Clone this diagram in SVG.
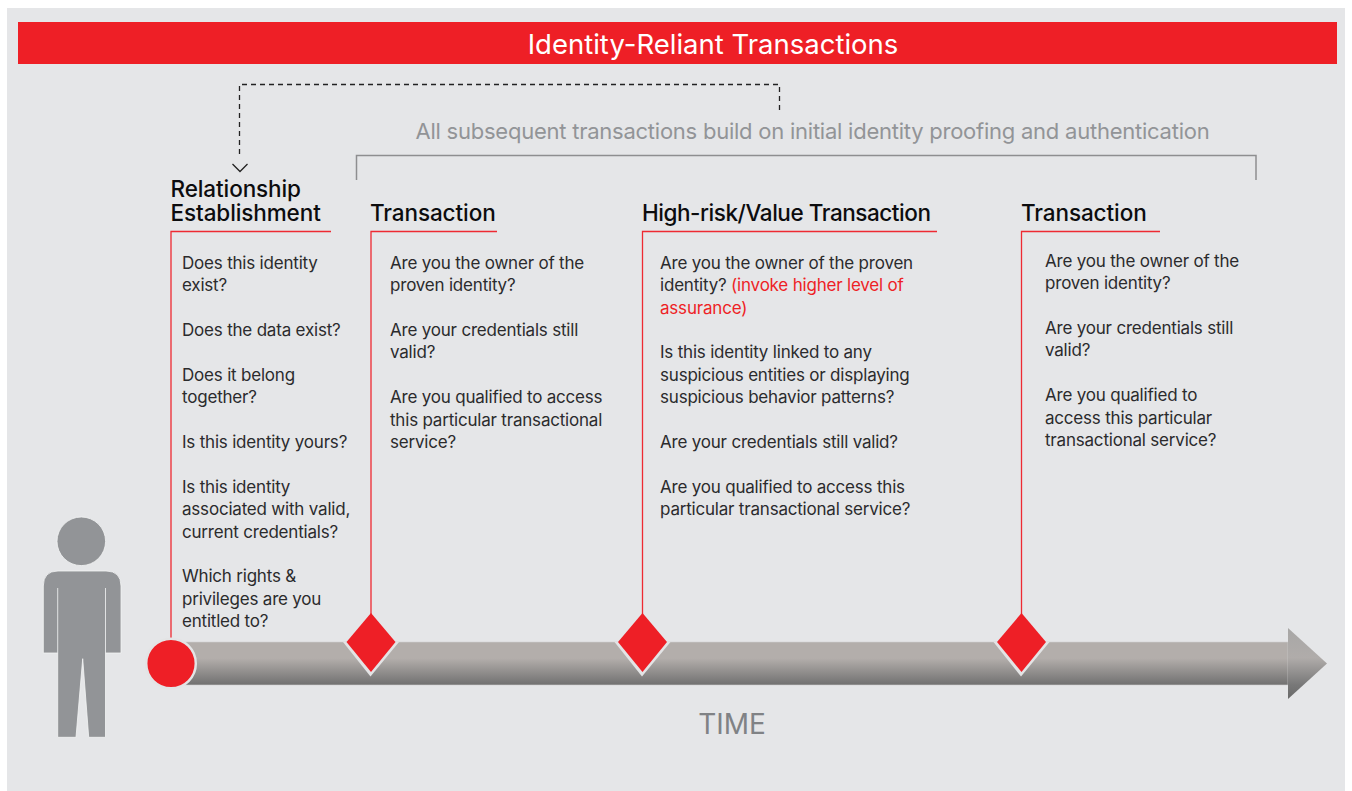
<svg xmlns="http://www.w3.org/2000/svg" width="1352" height="791" viewBox="0 0 1352 791">
<style>
text{font-family:"Inter","Liberation Sans",sans-serif}
.b{font-size:17px;fill:#2b2b2d;letter-spacing:-.2px}
.r{fill:#ee1f26}
.h{font-size:22.5px;fill:#0c0c0e;font-weight:500}
.l{fill:none;stroke:#ee2a32;stroke-width:1.3}
.u{fill:#e3e4e5}
.d{fill:#ee1f26}
</style>
<defs>
<linearGradient id="g" gradientUnits="userSpaceOnUse" x1="0" y1="642" x2="0" y2="685"><stop offset="0" stop-color="#b3aeab"/><stop offset=".38" stop-color="#b3aeab"/><stop offset="1" stop-color="#707070"/></linearGradient>
<linearGradient id="g2" gradientUnits="userSpaceOnUse" x1="0" y1="628" x2="0" y2="699"><stop offset="0" stop-color="#a8a7a6"/><stop offset=".42" stop-color="#b0acaa"/><stop offset=".8" stop-color="#787878"/><stop offset="1" stop-color="#696969"/></linearGradient>
</defs>
<rect width="1352" height="791" fill="#fff"/>
<rect x="7" y="8" width="1338" height="783" fill="#e5e6e8"/>
<g id="title"><rect x="18" y="22" width="1319" height="42" fill="#ee1f26"/>
<text x="713" y="54" text-anchor="middle" font-size="27.500" fill="#fff">Identity-Reliant Transactions</text></g>
<g id="connectors">
<path d="M779.500 110V84.500H239.500V156" fill="none" stroke="#222" stroke-width="1.300" stroke-dasharray="5 4"/>
<path d="M232.500 164L240 171.500L247.500 164" fill="none" stroke="#222" stroke-width="1.300"/>
<path d="M356.500 180V155.500H1256V180" fill="none" stroke="#8e8e90" stroke-width="1.500"/>
<path class="l" d="M331 231.500H171V640"/>
<path class="l" d="M497 231.500H371V614"/>
<path class="l" d="M937 231.500H642.500V614"/>
<path class="l" d="M1160 231.500H1021.500V614"/>
</g>
<text x="812.500" y="139" text-anchor="middle" font-size="22" fill="#929497" letter-spacing="-.24">All subsequent transactions build on initial identity proofing and authentication</text>
<g id="timeline">
<path d="M171 642H1288V685H171Z" fill="url(#g)" stroke="#d2d2d2" stroke-width=".6"/>
<path d="M1288 628L1327 663.500L1288 699Z" fill="url(#g2)"/>
<text x="732" y="733.500" text-anchor="middle" font-size="28" fill="#808285">TIME</text>
</g>
<g id="person" fill="#929497" stroke="#f4f5f5" stroke-width=".8">
<circle cx="81.300" cy="541.300" r="24.300"/>
<path d="M43.300 653V586Q43.300 571 58 571H106Q121 571 121 586V653H105.500V737.300H88.700L82.700 658.700L76 737.300H57.700V653Z"/>
<path d="M57.700 588V653M105.500 588V653" fill="none"/>
</g>
<g id="n1">
<circle cx="171" cy="663.500" r="24.800" fill="#ee1f26" stroke="#e3e4e5" stroke-width="2.500"/>
<text class="h" letter-spacing="-.1"><tspan x="170.500" y="197">Relationship</tspan><tspan x="170.500" y="221">Establishment</tspan></text>
<text class="b"><tspan x="182" y="269">Does this identity</tspan><tspan x="182" y="291">exist?</tspan><tspan x="182" y="336">Does the data exist?</tspan><tspan x="182" y="381">Does it belong</tspan><tspan x="182" y="403">together?</tspan><tspan x="182" y="448">Is this identity yours?</tspan><tspan x="182" y="493">Is this identity</tspan><tspan x="182" y="515">associated with valid,</tspan><tspan x="182" y="538">current credentials?</tspan><tspan x="182" y="582">Which rights &amp;</tspan><tspan x="182" y="605">privileges are you</tspan><tspan x="182" y="627">entitled to?</tspan></text>
</g>
<g id="n2">
<path class="u" d="M343 642L370.500 676.500L399 642Z"/>
<path class="d" d="M371 613L395.500 642L371 672L346.500 642Z"/>
<text class="h" x="370" y="220.500" letter-spacing="-.1">Transaction</text>
<text class="b"><tspan x="390" y="269">Are you the owner of the</tspan><tspan x="390" y="291">proven identity?</tspan><tspan x="390" y="336">Are your credentials still</tspan><tspan x="390" y="358">valid?</tspan><tspan x="390" y="403">Are you qualified to access</tspan><tspan x="390" y="426">this particular transactional</tspan><tspan x="390" y="448">service?</tspan></text>
</g>
<g id="n3">
<path class="u" d="M614.500 642L642 676.500L670.500 642Z"/>
<path class="d" d="M642.500 613L667 642L642.500 672L618 642Z"/>
<text class="h" x="642" y="220.500" letter-spacing="-.45">High-risk/Value Transaction</text>
<text class="b"><tspan x="660" y="269">Are you the owner of the proven</tspan><tspan x="660" y="291">identity? <tspan class="r">(invoke higher level of</tspan></tspan><tspan x="660" y="314" class="r">assurance)</tspan><tspan x="660" y="358">Is this identity linked to any</tspan><tspan x="660" y="381">suspicious entities or displaying</tspan><tspan x="660" y="403">suspicious behavior patterns?</tspan><tspan x="660" y="448">Are your credentials still valid?</tspan><tspan x="660" y="493">Are you qualified to access this</tspan><tspan x="660" y="515">particular transactional service?</tspan></text>
</g>
<g id="n4">
<path class="u" d="M993.500 642L1021 676.500L1049.500 642Z"/>
<path class="d" d="M1021.500 613L1046 642L1021.500 672L997 642Z"/>
<text class="h" x="1021" y="220.500" letter-spacing="-.1">Transaction</text>
<text class="b"><tspan x="1045" y="267">Are you the owner of the</tspan><tspan x="1045" y="289">proven identity?</tspan><tspan x="1045" y="334">Are your credentials still</tspan><tspan x="1045" y="356">valid?</tspan><tspan x="1045" y="401">Are you qualified to</tspan><tspan x="1045" y="424">access this particular</tspan><tspan x="1045" y="446">transactional service?</tspan></text>
</g>
</svg>
